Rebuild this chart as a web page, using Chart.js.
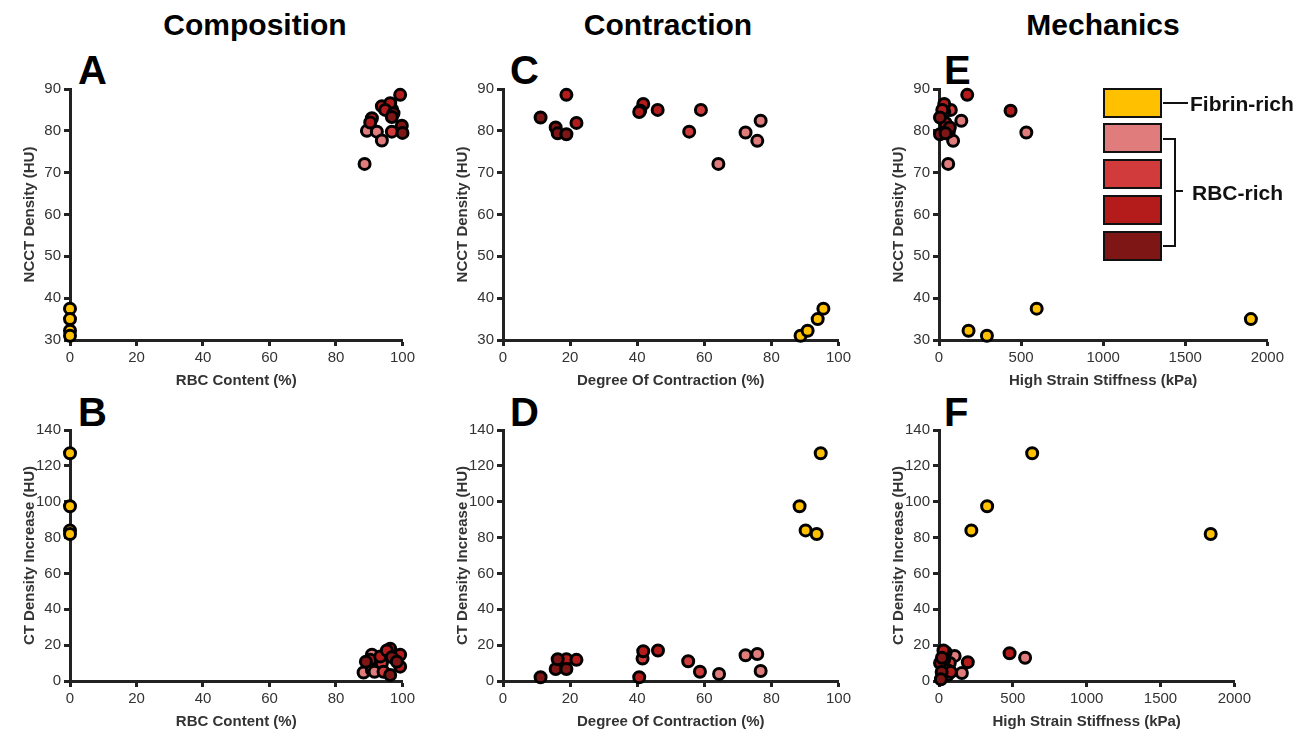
<!DOCTYPE html>
<html>
<head>
<meta charset="utf-8">
<script src="https://cdn.jsdelivr.net/npm/chart.js@4.4.0/dist/chart.umd.min.js"></script>
<style>
  body { margin: 0; width: 1310px; height: 736px; background: #fff; position: relative; overflow: hidden;
         font-family: 'Liberation Sans', Arial, sans-serif; }
  canvas { position: absolute; }
  .col-title { position: absolute; top: 8px; font-weight: bold; font-size: 30px; color: #000; transform: translateX(-50%); white-space: nowrap; }
  .letter { position: absolute; font-weight: bold; font-size: 40px; color: #000; line-height: 1; }
  .swatch { position: absolute; left: 1103px; width: 55px; height: 26px; border: 2.5px solid #111; }
  .leg-text { position: absolute; font-weight: bold; font-size: 21px; color: #111; white-space: nowrap; line-height: 1; }
  .leg-line { position: absolute; background: #111; }
</style>
</head>
<body>

<div class="col-title" style="left:255px">Composition</div>
<div class="col-title" style="left:668px">Contraction</div>
<div class="col-title" style="left:1103px">Mechanics</div>

<div class="letter" style="left:78px; top:50px">A</div>
<div class="letter" style="left:78px; top:392px">B</div>
<div class="letter" style="left:510px; top:50px">C</div>
<div class="letter" style="left:510px; top:392px">D</div>
<div class="letter" style="left:944px; top:50px">E</div>
<div class="letter" style="left:944px; top:392px">F</div>

<canvas id="cA"></canvas>
<canvas id="cB"></canvas>
<canvas id="cC"></canvas>
<canvas id="cD"></canvas>
<canvas id="cE"></canvas>
<canvas id="cF"></canvas>

<div id="legend"></div>

<script>
// groups: 0 fibrin-rich, 1..4 RBC-rich shades (light -> dark)
const groupColors = ['#FFC000', '#E07C7C', '#D13B3B', '#B41C1C', '#7F1616'];

// A: RBC content (%) vs NCCT density (HU)
const aRbc   = [0, 0, 0, 0, 99.3, 93.8, 96.3, 96.8, 94.8, 97.3, 96.8, 90.8, 90.3, 89.3, 92.3, 93.8, 96.8, 99.8, 100, 88.6];
const aNcct  = [37.5, 35, 32.2, 31, 88.6, 85.9, 86.6, 85.2, 85.0, 84.2, 83.3, 83.0, 82.0, 80.0, 79.8, 77.7, 79.8, 81.2, 79.5, 72.1];
const aGroup = [0, 0, 0, 0, 3, 3, 3, 2, 3, 4, 4, 3, 3, 1, 1, 1, 2, 4, 4, 1];

// B: RBC content (%) vs CT density increase (HU)
const bRbc   = [0, 0, 0, 0, 88.3, 89, 90.8, 90.8, 90.3, 93.3, 93.8, 94.3, 96.3, 96.8, 96.3, 99.3, 99.3, 98.3, 91.6, 95.3];
const bCtInc = [127, 97.5, 84, 82, 4.7, 10.8, 6.2, 14.6, 11.8, 13.6, 9.9, 5.2, 18, 13.3, 3.4, 14.6, 8.0, 10.8, 5.2, 17];
const bGroup = [0, 0, 0, 0, 1, 4, 1, 1, 3, 3, 2, 2, 3, 4, 4, 3, 3, 4, 1, 3];

// C: degree of contraction (%) vs NCCT density (HU)
const cContr = [88.7, 90.8, 93.8, 95.5, 11.2, 15.7, 16.3, 18.9, 18.9, 21.9, 41.8, 40.9, 40.6, 46.1, 59, 55.5, 64.2, 72.3, 75.8, 76.8];
const cNcct  = [31, 32.2, 35, 37.5, 83.2, 80.8, 79.4, 79.2, 88.6, 81.9, 86.4, 84.8, 84.5, 85, 85, 79.8, 72.1, 79.6, 77.6, 82.4];
const cGroup = [0, 0, 0, 0, 4, 4, 4, 4, 3, 3, 3, 3, 3, 3, 2, 2, 1, 1, 1, 1];

// D: degree of contraction (%) vs CT density increase (HU)
const dContr = [88.4, 90.2, 93.5, 94.7, 11.2, 15.7, 16.3, 18.9, 18.9, 21.9, 41.8, 41.6, 40.6, 46.2, 55.2, 58.7, 64.4, 72.3, 75.8, 76.8];
const dCtInc = [97.5, 84, 82, 127, 2.1, 6.7, 12.2, 6.7, 12.2, 11.8, 16.6, 12.5, 2.1, 17, 11, 5.2, 3.9, 14.4, 15.1, 5.6];
const dGroup = [0, 0, 0, 0, 4, 4, 4, 4, 3, 3, 3, 2, 3, 3, 2, 2, 1, 1, 1, 1];

// E: high strain stiffness (kPa) vs NCCT density (HU)
const eStiff = [180, 292, 595, 1900, 172, 436, 532, 56, 136, 86, 32, 72, 32, 6, 40, 66, 6, 40, 60, 20];
const eNcct  = [32.2, 31, 37.5, 35, 88.6, 84.8, 79.6, 72.1, 82.4, 77.6, 86.4, 85, 84.5, 83.2, 81.9, 80.8, 79.2, 79.4, 79.8, 85];
const eGroup = [0, 0, 0, 0, 3, 3, 1, 1, 1, 1, 3, 2, 3, 4, 3, 4, 4, 4, 2, 3];

// F: high strain stiffness (kPa) vs CT density increase (HU)
const fStiff = [219, 326, 631, 1840, 478, 583, 195, 155, 106, 60, 45, 73, 30, 7, 18, 13, 80, 35, 60, 20];
const fCtInc = [84, 97.5, 127, 82, 15.5, 13, 10.5, 4.5, 14, 3.5, 16, 10, 17, 10, 5, 1, 5, 12, 6, 13];
const fGroup = [0, 0, 0, 0, 3, 1, 3, 1, 1, 1, 3, 2, 3, 4, 4, 4, 3, 3, 2, 4];

const ncctAxis = { min: 30, max: 90, step: 10, title: 'NCCT Density (HU)' };
const ctAxis   = { min: 0, max: 140, step: 20, title: 'CT Density Increase (HU)' };
const rbcAxis  = { min: 0, max: 100, step: 20, title: 'RBC Content (%)' };
const contrAxis = { min: 0, max: 100, step: 20, title: 'Degree Of Contraction (%)' };
const stiffAxis = { min: 0, max: 2000, step: 500, title: 'High Strain Stiffness (kPa)' };

const Y_AXIS_W = 72, X_AXIS_H = 52, PAD_T = 12, PAD_R = 14;

function buildDatasets(xs, ys, gs) {
  const sets = [];
  // first dataset ends up on top: fibrin, then dark -> light
  [0, 4, 3, 2, 1].forEach(g => {
    const pts = [];
    xs.forEach((x, i) => { if (gs[i] === g) pts.push({ x: x, y: ys[i] }); });
    sets.push({
      data: pts,
      backgroundColor: groupColors[g],
      borderColor: '#000',
      borderWidth: 3,
      pointRadius: 5.5,
      pointHoverRadius: 5.5,
      clip: false
    });
  });
  return sets;
}

function axisOpts(ax, isX) {
  return {
    type: 'linear',
    min: ax.min,
    max: ax.max,
    afterFit: (s) => { if (isX) s.height = X_AXIS_H; else s.width = Y_AXIS_W; },
    border: { display: true, color: '#222', width: 3 },
    grid: { display: true, drawOnChartArea: false, drawTicks: true, tickLength: 6, tickWidth: 3, tickColor: '#222' },
    ticks: {
      stepSize: ax.step,
      color: '#333',
      padding: 3,
      font: { family: "'Liberation Sans', Arial, sans-serif", size: 15 },
      maxRotation: 0,
      autoSkip: false,
      callback: (v) => String(v)
    },
    title: {
      display: true,
      text: ax.title,
      color: '#333',
      font: { family: "'Liberation Sans', Arial, sans-serif", size: 15, weight: 'bold' },
      padding: isX ? { top: 0, bottom: 2 } : { top: 23, bottom: 0 }
    }
  };
}

function makePanel(id, box, xs, ys, gs, xAx, yAx) {
  const cv = document.getElementById(id);
  const w = (box.R - box.L) + Y_AXIS_W + PAD_R;
  const h = (box.B - box.T) + PAD_T + X_AXIS_H;
  cv.width = w; cv.height = h;
  cv.style.left = (box.L - Y_AXIS_W) + 'px';
  cv.style.top = (box.T - PAD_T) + 'px';
  cv.style.width = w + 'px'; cv.style.height = h + 'px';
  new Chart(cv, {
    type: 'scatter',
    data: { datasets: buildDatasets(xs, ys, gs) },
    options: {
      responsive: false,
      animation: false,
      devicePixelRatio: 1,
      layout: { padding: { top: PAD_T, right: PAD_R, left: 0, bottom: 0 } },
      plugins: { legend: { display: false }, tooltip: { enabled: false } },
      scales: { x: axisOpts(xAx, true), y: axisOpts(yAx, false) }
    }
  });
}

makePanel('cA', { L: 70, R: 404, T: 89, B: 340 }, aRbc, aNcct, aGroup, rbcAxis, ncctAxis);
makePanel('cB', { L: 70, R: 404, T: 430, B: 681 }, bRbc, bCtInc, bGroup, rbcAxis, ctAxis);
makePanel('cC', { L: 503, R: 840, T: 89, B: 340 }, cContr, cNcct, cGroup, contrAxis, ncctAxis);
makePanel('cD', { L: 503, R: 840, T: 430, B: 681 }, dContr, dCtInc, dGroup, contrAxis, ctAxis);
makePanel('cE', { L: 939, R: 1273, T: 89, B: 340 }, eStiff, eNcct, eGroup, stiffAxis, ncctAxis);
makePanel('cF', { L: 939, R: 1240, T: 430, B: 681 }, fStiff, fCtInc, fGroup, stiffAxis, ctAxis);

// legend (inside panel E)
const legend = document.getElementById('legend');
const swatchTops = [88, 123, 159, 195, 231];
let html = '';
swatchTops.forEach((t, i) => {
  html += '<div class="swatch" style="top:' + t + 'px;background:' + groupColors[i] + '"></div>';
});
html += '<div class="leg-line" style="left:1163px;top:102px;width:25px;height:2px"></div>';
html += '<div class="leg-text" style="left:1190px;top:93px">Fibrin-rich</div>';
html += '<div class="leg-line" style="left:1163px;top:138px;width:12px;height:2px"></div>';
html += '<div class="leg-line" style="left:1174px;top:138px;width:2px;height:109px"></div>';
html += '<div class="leg-line" style="left:1163px;top:245px;width:12px;height:2px"></div>';
html += '<div class="leg-line" style="left:1174px;top:190px;width:9px;height:2px"></div>';
html += '<div class="leg-text" style="left:1192px;top:182px">RBC-rich</div>';
legend.innerHTML = html;
</script>
</body>
</html>
